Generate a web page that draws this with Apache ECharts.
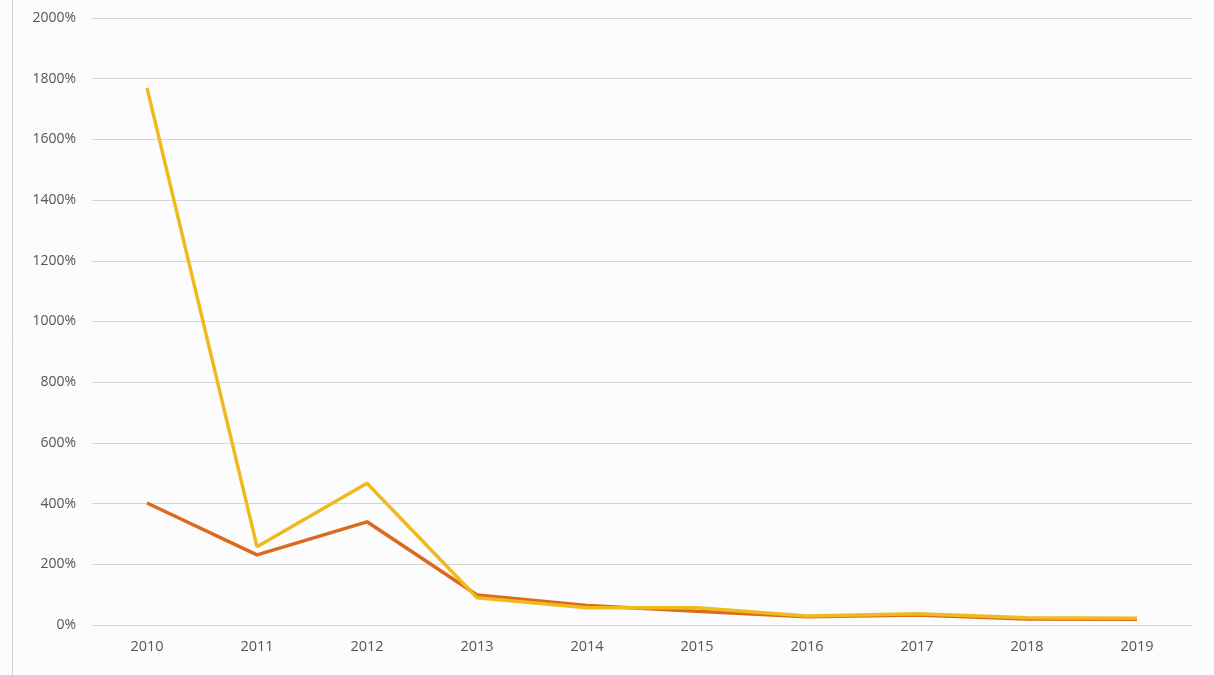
<!DOCTYPE html>
<html><head><meta charset="utf-8">
<script src="https://cdn.jsdelivr.net/npm/echarts@6/dist/echarts.min.js"></script>
<style>html,body{margin:0;padding:0;background:#fcfbfd;}#c{width:1214px;height:675px;}</style>
</head><body><div id="c"></div>
<script>
const years = ['2010','2011','2012','2013','2014','2015','2016','2017','2018','2019'];
const seriesYellow = [1770, 258, 467, 90, 57, 57, 30, 37, 24, 22];
const seriesOrange = [402, 231, 340, 99, 64, 45, 27, 33, 20, 19];
const yTicks = {min: 0, max: 2000, interval: 200};

const chart = echarts.init(document.getElementById('c'), null, {renderer: 'canvas'});
chart.setOption({
  backgroundColor: '#fcfbfd',
  animation: false,
  grid: {left: 92, right: 22, top: 18, bottom: 50},
  graphic: [{type: 'line', shape: {x1: 12.5, y1: 0, x2: 12.5, y2: 675}, style: {stroke: '#cfcfd4', lineWidth: 1}}],
  xAxis: {
    type: 'category', data: years, boundaryGap: true,
    axisLine: {show: false}, axisTick: {show: false},
    axisLabel: {color: '#555', fontSize: 14.5, margin: 14, fontFamily: 'Open Sans'}
  },
  yAxis: {
    type: 'value', min: yTicks.min, max: yTicks.max, interval: yTicks.interval,
    axisLine: {show: false}, axisTick: {show: false},
    splitLine: {lineStyle: {color: '#d6d6da', width: 1}},
    axisLabel: {color: '#555', fontSize: 14, margin: 16, fontFamily: 'Open Sans', formatter: v => v + '%'}
  },
  series: [
    {name: 'orange', type: 'line', data: seriesOrange, symbol: 'none', lineStyle: {color: '#dc6a1c', width: 3.5}},
    {name: 'yellow', type: 'line', data: seriesYellow, symbol: 'none', lineStyle: {color: '#efbb1c', width: 3.5}}
  ]
});
</script></body></html>
